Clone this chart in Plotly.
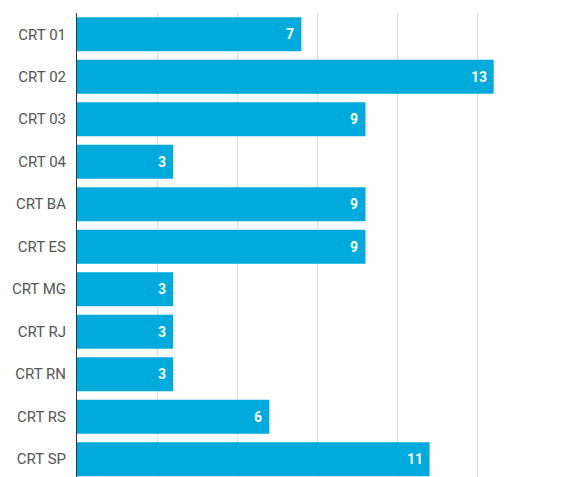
import plotly.graph_objects as go

categories = ["CRT 01", "CRT 02", "CRT 03", "CRT 04", "CRT BA", "CRT ES",
              "CRT MG", "CRT RJ", "CRT RN", "CRT RS", "CRT SP"]
values = [7, 13, 9, 3, 9, 9, 3, 3, 3, 6, 11]

bar_color = "#00AADC"

fig = go.Figure()
fig.add_trace(go.Bar(
    x=values, y=categories, orientation="h",
    marker=dict(color=bar_color, line=dict(width=0)),
    width=0.8, hoverinfo="skip",
))

for c, v in zip(categories, values):
    fig.add_annotation(
        x=v, y=c, text=f"<b>{v}</b>", showarrow=False,
        xanchor="right", yanchor="middle", xshift=-5,
        font=dict(family="Roboto", size=14, color="white"),
    )

# last gridline at the right edge of the value axis
fig.add_vline(x=15, line=dict(color="#DDDDDD", width=1), layer="below")

fig.update_layout(
    width=553, height=469,
    margin=dict(l=69, r=0, t=5, b=0, autoexpand=False),
    paper_bgcolor="white", plot_bgcolor="white",
    showlegend=False,
    font=dict(family="Roboto"),
    xaxis=dict(range=[0, 15.1], dtick=2.5, showgrid=True, gridcolor="#DDDDDD",
               gridwidth=1, showticklabels=False, zeroline=False, showline=False,
               ticks="", automargin=False),
    yaxis=dict(categoryorder="array", categoryarray=categories,
               range=[10.42, -0.5], showline=True, linecolor="#333333",
               linewidth=1, ticks="", showgrid=False, automargin=False,
               tickfont=dict(family="Roboto", size=15, color="#555555"),
               ticklabelstandoff=7),
)

fig.write_html("out.html")
